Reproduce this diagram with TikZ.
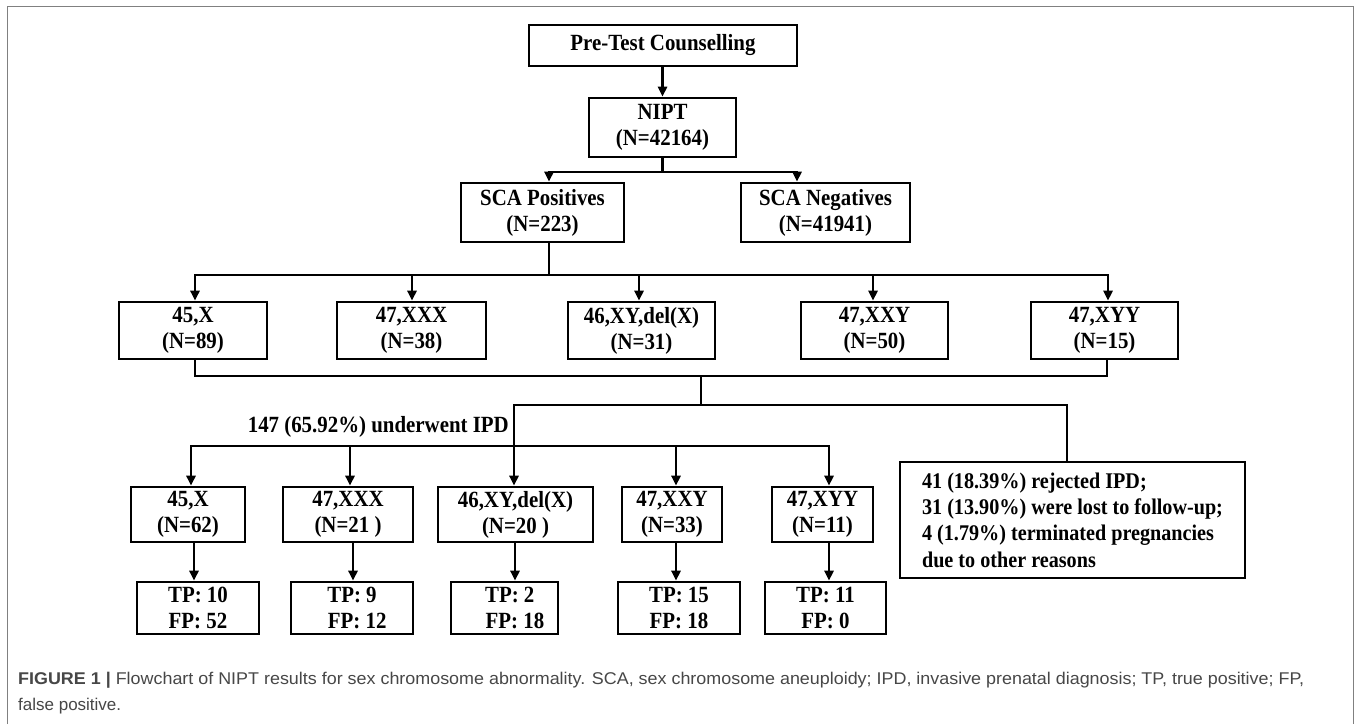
\documentclass[tikz,border=0pt]{standalone}
\usepackage{fontspec}
\setmainfont{Liberation Serif}[FakeStretch=0.9]
\newfontfamily\capfont{Liberation Sans}
\usetikzlibrary{arrows.meta}
\begin{document}
\begin{tikzpicture}[x=1pt,y=-1pt,
  box/.style={draw, line width=2.6pt, align=center, inner sep=0pt,
    font=\fontsize{23.2}{26}\selectfont\bfseries},
  ln/.style={line width=2.6pt},
  arr/.style={ln, -{Triangle[length=10pt,width=9pt]}},
  lbl/.style={font=\fontsize{23.2}{26}\selectfont\bfseries, inner sep=0pt},
]
\useasboundingbox (0,0) rectangle (1357,724);
\fill[white] (0,0) rectangle (1357,724);
\draw[black!50, line width=1.3pt] (7.5,724) -- (7.5,6.5) -- (1353.5,6.5) -- (1353.5,724);

% top
\node[box, minimum width=268, minimum height=41] (pre) at (663,45.5) {Pre-Test Counselling};
\node[box, minimum width=147, minimum height=59] (nipt) at (662.5,127.5) {NIPT\\(N=42164)};
\node[box, minimum width=163, minimum height=59] (scapos) at (542.5,212.5) {SCA Positives\\(N=223)};
\node[box, minimum width=169, minimum height=59] (scaneg) at (825.5,212.5) {SCA Negatives\\(N=41941)};

% row 2
\node[box, minimum width=148, minimum height=57] (a1) at (193,330.5) {45,X\\(N=89)};
\node[box, minimum width=149, minimum height=57] (a2) at (411.5,330.5) {47,XXX\\(N=38)};
\node[box, minimum width=147, minimum height=57] (a3) at (641.5,330.5) {46,XY,del(X)\\(N=31)};
\node[box, minimum width=147, minimum height=57] (a4) at (874.5,330.5) {47,XXY\\(N=50)};
\node[box, minimum width=147, minimum height=57] (a5) at (1104.5,330.5) {47,XYY\\(N=15)};

% row 3
\node[box, minimum width=114, minimum height=55] (b1) at (188,514.5) {45,X\\(N=62)};
\node[box, minimum width=130, minimum height=55] (b2) at (348,514.5) {47,XXX\\(N=21 )};
\node[box, minimum width=155, minimum height=55] (b3) at (515.5,514.5) {46,XY,del(X)\\(N=20 )};
\node[box, minimum width=100, minimum height=55] (b4) at (672,514.5) {47,XXY\\(N=33)};
\node[box, minimum width=101, minimum height=55] (b5) at (822.5,514.5) {47,XYY\\(N=11)};
\node[box, align=left, minimum width=345, minimum height=116,
  font=\fontsize{22.4}{26.3}\selectfont\bfseries] (rej) at (1072.5,520)
  {41 (18.39\%) rejected IPD;\\31 (13.90\%) were lost to follow-up;\\4 (1.79\%) terminated pregnancies\\due to other reasons};

% row 4
\node[box, minimum width=122, minimum height=52] (c1) at (198,608) {TP: 10\\FP: 52};
\node[box, minimum width=122, minimum height=52] (c2) at (352,608) {TP: 9\\\ \ FP: 12};
\node[box, minimum width=107, minimum height=52] (c3) at (504.5,608) {\ \ TP: 2\\\ \ \ \ FP: 18};
\node[box, minimum width=122, minimum height=52] (c4) at (679,608) {TP: 15\\FP: 18};
\node[box, minimum width=121, minimum height=52] (c5) at (825.5,608) {TP: 11\\FP: 0};

\node[lbl, anchor=east] (ipd) at (509,427) {147 (65.92\%) underwent IPD};

% connectors: top
\draw[arr] (nipt.north |- pre.south) -- (nipt.north);
\coordinate (j1) at (662.5,172);
\coordinate (j1l) at (549,172);
\coordinate (j1r) at (797,172);
\draw[ln] (nipt.south) -- (j1);
\draw[arr] (j1) -- (j1l) -- (j1l |- scapos.north);
\draw[arr] (j1) -- (j1r) -- (j1r |- scaneg.north);

% row 2 bus
\coordinate (j2) at (549,275);
\coordinate (x1) at (195,275);
\coordinate (x2) at (412,275);
\coordinate (x3) at (639,275);
\coordinate (x4) at (873,275);
\coordinate (x5) at (1108,275);
\draw[ln] (j2 |- scapos.south) -- (j2);
\draw[arr] (j2) -- (x1) -- (x1 |- a1.north);
\draw[arr] (j2) -- (x5) -- (x5 |- a5.north);
\draw[arr] (x2) -- (x2 |- a2.north);
\draw[arr] (x3) -- (x3 |- a3.north);
\draw[arr] (x4) -- (x4 |- a4.north);

% join
\coordinate (k1) at (195,376);
\coordinate (k2) at (1107,376);
\coordinate (k0) at (701,376);
\coordinate (m0) at (701,405);
\coordinate (ml) at (514,405);
\coordinate (mr) at (1067,405);
\draw[ln] (k1 |- a1.south) -- (k1) -- (k2) -- (k2 |- a5.south);
\draw[ln] (k0) -- (m0);
\draw[arr] (m0) -- (ml) -- (ml |- b3.north);
\draw[ln] (m0) -- (mr) -- (mr |- rej.north);

% row 3 bus
\coordinate (n1) at (191,446);
\coordinate (n2) at (350,446);
\coordinate (n4) at (676,446);
\coordinate (n5) at (829,446);
\draw[arr] (n2) -- (n1) -- (n1 |- b1.north);
\draw[arr] (n4) -- (n5) -- (n5 |- b5.north);
\draw[ln] (n2) -- (n4);
\draw[arr] (n2) -- (n2 |- b2.north);
\draw[arr] (n4) -- (n4 |- b4.north);

% to TP/FP
\coordinate (q1) at (194,0);
\coordinate (q2) at (353,0);
\coordinate (q3) at (515,0);
\coordinate (q4) at (676,0);
\coordinate (q5) at (829,0);
\draw[arr] (q1 |- b1.south) -- (q1 |- c1.north);
\draw[arr] (q2 |- b2.south) -- (q2 |- c2.north);
\draw[arr] (q3 |- b3.south) -- (q3 |- c3.north);
\draw[arr] (q4 |- b4.south) -- (q4 |- c4.north);
\draw[arr] (q5 |- b5.south) -- (q5 |- c5.north);

% caption
\node[anchor=west, align=left, inner sep=0pt, text=black!72,
  font=\capfont\fontsize{17}{26}\selectfont] (cap) at (18,693)
  {\resizebox{1286pt}{\height}{\textbf{FIGURE 1 |} Flowchart of NIPT results for sex chromosome abnormality. SCA, sex chromosome aneuploidy; IPD, invasive prenatal diagnosis; TP, true positive; FP,}\\false positive.};
\end{tikzpicture}
\end{document}
